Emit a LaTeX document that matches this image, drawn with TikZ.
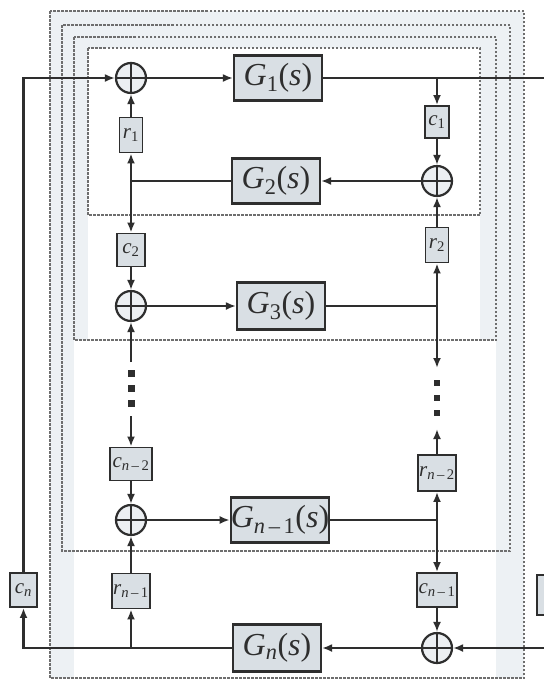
\documentclass[tikz,border=0pt]{standalone}
\usepackage{fontspec}
\setmainfont{Liberation Serif}
\usetikzlibrary{arrows.meta}
\definecolor{lc}{HTML}{2E2E2E}
\definecolor{bx}{HTML}{D9DFE4}
\definecolor{dsh}{HTML}{6E6E6E}
\definecolor{tint}{HTML}{EDF1F4}
\newcommand{\Gsub}[1]{\textit{G}\textsubscript{#1}(\textit{s})}
\newcommand{\lab}[2]{\textit{#1}\textsubscript{#2}}
\tikzset{
  wire/.style={draw=lc, line width=2.2pt},
  arr/.style={wire, -{Latex[length=10pt,width=8pt]}},
  gbox/.style={draw=lc, line width=2.2pt, fill=bx, inner sep=0pt, text=lc,
    minimum width=88pt, minimum height=45pt, font=\fontsize{32}{34}\selectfont},
  sbox/.style={draw=lc, line width=1.9pt, fill=bx, inner sep=1pt, text=lc,
    minimum height=34pt, font=\fontsize{21}{23}\selectfont},
  sumj/.style={circle, draw=lc, line width=2.2pt, fill=bx!50, minimum size=30pt, inner sep=0pt,
    path picture={\draw[lc, line width=2.2pt]
      (path picture bounding box.north) -- (path picture bounding box.south)
      (path picture bounding box.west) -- (path picture bounding box.east);}},
  dbox/.style={draw=dsh, line width=1.4pt, dash pattern=on 2.5pt off 1.5pt},
  dotsq/.style={fill=lc, minimum size=7pt, inner sep=0pt}
}
\begin{document}
\begin{tikzpicture}[x=1pt,y=-1pt]
\clip (0,0) rectangle (544,681);
\useasboundingbox (0,0) rectangle (544,681);
\fill[white] (0,0) rectangle (544,681);
% faint tint bands
\fill[tint] (50,11) rectangle (524,48);
\fill[tint] (50,11) rectangle (74,678);
\fill[tint] (74,48) rectangle (88,340);
\fill[tint] (496,11) rectangle (524,678);
\fill[tint] (480,48) rectangle (496,340);
% dashed group boxes
\draw[dbox] (50,11) rectangle (524,678);
\draw[dbox] (62,25) rectangle (510,551);
\draw[dbox] (74,37) rectangle (496,340);
\draw[dbox] (88,48) rectangle (480,215);

% nodes
\node[sumj] (s1) at (131,78) {};
\node[gbox] (G1) at (278,78) {\Gsub{1}};
\node[sbox, minimum width=24pt, minimum height=32pt] (c1) at (437,122) {\lab{c}{1}};
\node[sumj] (s2) at (437,181) {};
\node[gbox] (G2) at (276,181) {\Gsub{2}};
\node[sbox, minimum width=23pt, minimum height=35pt] (r1) at (131,135) {\lab{r}{1}};
\node[sbox, minimum width=28pt, minimum height=33pt] (c2) at (131,250) {\lab{c}{2}};
\node[sumj] (s3) at (131,306) {};
\node[gbox, minimum height=47pt] (G3) at (281,306) {\Gsub{3}};
\node[sbox, minimum width=23pt, minimum height=35pt] (r2) at (437,245) {\lab{r}{2}};
\node[sbox, minimum width=42pt, minimum height=33pt] (cn2) at (131,464) {\lab{c}{\textit{n}\,–\,2}};
\node[sumj] (sn1) at (131,520) {};
\node[gbox, minimum width=98pt] (Gn1) at (280,520) {\Gsub{\textit{n}\,–\,1}};
\node[sbox, minimum width=38pt, minimum height=36pt] (rn2) at (437,473) {\lab{r}{\textit{n}\,–\,2}};
\node[sbox, minimum width=40pt, minimum height=34pt] (cn1) at (437,590) {\lab{c}{\textit{n}\,–\,1}};
\node[sbox, minimum width=37pt, minimum height=35pt] (rm1) at (131,591) {\lab{r}{\textit{n}\,–\,1}};
\node[gbox, minimum height=47pt] (Gn) at (277,648) {\Gsub{\textit{n}}};
\node[sumj] (sn) at (437,648) {};
\node[sbox, minimum width=27pt, minimum height=34pt] (cn) at (23.5,590) {\lab{c}{\textit{n}}};
\node[sbox, minimum width=38pt, minimum height=40pt] (rn) at (556,595) {};

% coordinates
\coordinate (jtop) at (437,78);
\coordinate (rEdgeTop) at (550,78);
\coordinate (rEdgeBot) at (550,648);
\coordinate (jG2) at (131,181);
\coordinate (jG3) at (437,306);
\coordinate (jGn1) at (437,520);
\coordinate (jGn) at (131,648);
\coordinate (dR1) at (437,368);
\coordinate (dR2) at (437,429);
\coordinate (dL1) at (131,362);
\coordinate (dL2) at (131,416);

% dots
\node[dotsq, minimum size=6pt] (dr1) at (437,383) {};
\node[dotsq, minimum size=6pt] (dr2) at (437,398) {};
\node[dotsq, minimum size=6pt] (dr3) at (437,413) {};
\node[dotsq] (dl1) at (131,373) {};
\node[dotsq] (dl2) at (131,388) {};
\node[dotsq] (dl3) at (131,403) {};

% connectors
\draw[arr] (cn.north) |- (s1.west);
\draw[arr] (s1) -- (G1);
\draw[wire] (G1.east) -- (rEdgeTop);
\draw[arr] (jtop) -- (c1.north);
\draw[arr] (c1) -- (s2);
\draw[arr] (r2) -- (s2);
\draw[arr] (s2) -- (G2);
\draw[wire] (G2.west) -- (jG2);
\draw[arr] (jG2) -- (r1.south);
\draw[arr] (r1) -- (s1);
\draw[arr] (jG2) -- (c2.north);
\draw[arr] (c2) -- (s3);
\draw[arr] (s3) -- (G3);
\draw[wire] (G3.east) -- (jG3);
\draw[arr] (jG3) -- (r2.south);
\draw[arr] (jG3) -- (dR1);
\draw[arr] (rn2.north) -- (dR2);
\draw[arr] (dL1) -- (s3.south);
\draw[arr] (dL2) -- (cn2.north);
\draw[arr] (cn2) -- (sn1);
\draw[arr] (rm1) -- (sn1);
\draw[arr] (sn1) -- (Gn1);
\draw[wire] (Gn1.east) -- (jGn1);
\draw[arr] (jGn1) -- (rn2.south);
\draw[arr] (jGn1) -- (cn1.north);
\draw[arr] (cn1) -- (sn);
\draw[arr] (rEdgeBot) -- (sn.east);
\draw[arr] (sn) -- (Gn);
\draw[arr] (Gn.west) -| (cn.south);
\draw[arr] (jGn) -- (rm1.south);
\end{tikzpicture}
\end{document}
